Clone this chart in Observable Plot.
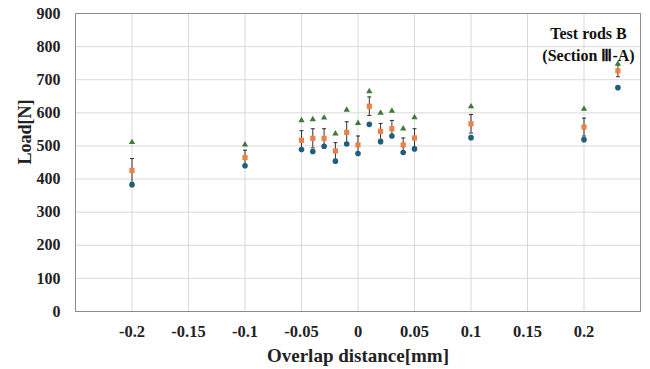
<!DOCTYPE html>
<html>
<head>
<meta charset="utf-8">
<script src="https://cdn.jsdelivr.net/npm/d3@7"></script>
<script src="https://cdn.jsdelivr.net/npm/@observablehq/plot@0.6"></script>
<style>
  html, body { margin: 0; padding: 0; background: #fff; }
  svg { font-family: "Liberation Serif", "Times New Roman", serif; }
</style>
</head>
<body>
<div id="chart"></div>
<script>
// Overlap distance [mm]
const overlap = [-0.2, -0.1, -0.05, -0.04, -0.03, -0.02, -0.01, 0, 0.01, 0.02, 0.03, 0.04, 0.05, 0.1, 0.2, 0.23];
// Maximum (triangles), mean (squares), minimum (circles) load [N]
const maxLoad  = [511, 504, 577, 580, 585, 537, 609, 569, 665, 600, 606, 552, 586, 619, 612, 748];
const meanLoad = [426, 465, 517, 523, 523, 485, 541, 503, 620, 544, 552, 503, 524, 567, 557, 727];
const minLoad  = [383, 440, 489, 483, 499, 454, 506, 477, 565, 513, 530, 480, 491, 525, 519, 676];
const errLoad  = [36, 22, 29, 29, 29, 25, 32, 27, 28, 24, 25, 21, 28, 28, 27, 18];

const xTicks = [-0.2, -0.15, -0.1, -0.05, 0, 0.05, 0.1, 0.15, 0.2];
const yTicks = [0, 100, 200, 300, 400, 500, 600, 700, 800, 900];
const xTitle = "Overlap distance[mm]";
const yTitle = "Load[N]";
const note = "Test rods B\n(Section Ⅲ-A)";

const rows = overlap.map((x, i) => ({
  x, max: maxLoad[i], mean: meanLoad[i], min: minLoad[i],
  lo: meanLoad[i] - errLoad[i], hi: meanLoad[i] + errLoad[i]
}));

const capSymbol = {
  draw(context, size) {
    const w = Math.sqrt(size) / 2;
    context.moveTo(-w, 0);
    context.lineTo(w, 0);
  }
};

const chart = Plot.plot({
  width: 650,
  height: 369,
  marginLeft: 75,
  marginRight: 10,
  marginTop: 13,
  marginBottom: 58,
  x: { domain: [-0.25, 0.25] },
  y: { domain: [0, 900] },
  marks: [
    Plot.gridX(xTicks, { stroke: "#d9d9d9", strokeOpacity: 1 }),
    Plot.gridY(yTicks, { stroke: "#d9d9d9", strokeOpacity: 1 }),
    Plot.frame({ stroke: "#8c8c8c", strokeWidth: 1 }),
    Plot.axisX(xTicks, {
      tickSize: 0, tickPadding: 14, fontSize: 16.5, fontWeight: "bold", fill: "#222",
      tickFormat: d => String(d), label: null
    }),
    Plot.axisY(yTicks, {
      tickSize: 0, tickPadding: 15, fontSize: 16, fontWeight: "bold", fill: "#222",
      tickFormat: d => String(d), label: null
    }),
    Plot.ruleX(rows, { x: "x", y1: "lo", y2: "hi", stroke: "#333", strokeWidth: 1 }),
    Plot.dot(rows, { x: "x", y: "hi", symbol: capSymbol, r: 2.3, stroke: "#333", strokeWidth: 1 }),
    Plot.dot(rows, { x: "x", y: "lo", symbol: capSymbol, r: 2.3, stroke: "#333", strokeWidth: 1 }),
    Plot.dot(rows, { x: "x", y: "max", symbol: "triangle2", r: 3, fill: "#3e7a3c" }),
    Plot.dot(rows, { x: "x", y: "min", symbol: "circle", r: 2.8, fill: "#1f5e7c" }),
    Plot.dot(rows, { x: "x", y: "mean", symbol: "square2", r: 3.3, fill: "#ec8047" }),
    Plot.text([note], {
      frameAnchor: "top-right", dx: -52, dy: 9, textAnchor: "middle", lineAnchor: "top",
      lineHeight: 1.42, fontSize: 16, fontWeight: "bold", fill: "#111"
    }),
    Plot.text([yTitle], {
      frameAnchor: "left", dx: -50, dy: 2, rotate: -90, fontSize: 18, fontWeight: "bold", fill: "#222"
    }),
    Plot.text([xTitle], {
      frameAnchor: "bottom", dy: 44, lineAnchor: "middle", fontSize: 19, fontWeight: "bold", fill: "#222"
    })
  ]
});
document.getElementById("chart").appendChild(chart);
</script>
</body>
</html>
